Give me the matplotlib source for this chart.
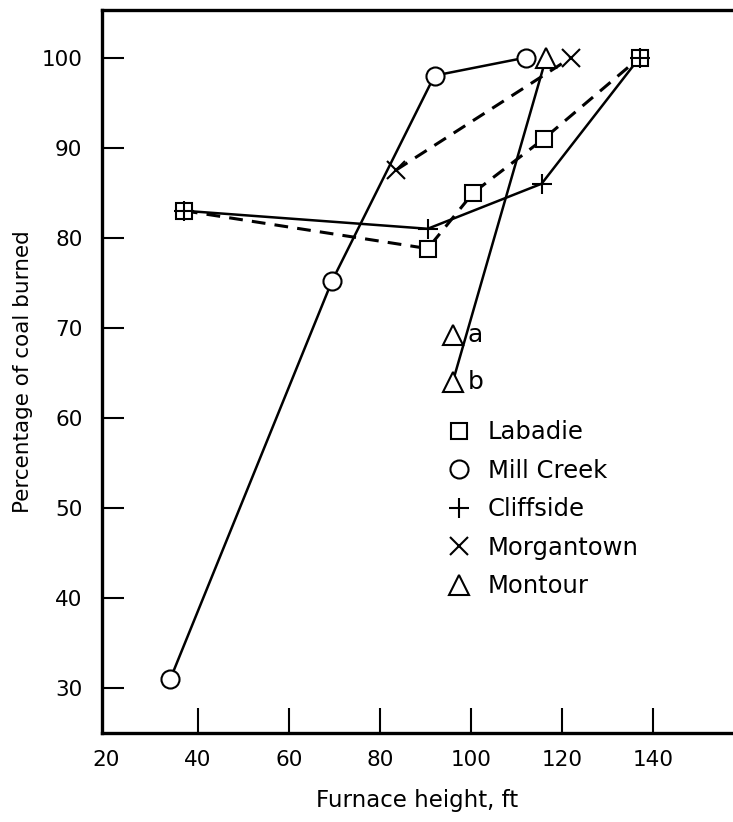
import numpy as np
import matplotlib
matplotlib.use("Agg")
import matplotlib.pyplot as plt
from matplotlib.lines import Line2D

# data
labadie_x = [37, 90.5, 100.5, 116, 137]
labadie_y = [83, 78.8, 85, 91, 100]

millcreek_x = [34, 69.5, 92, 112]
millcreek_y = [31, 75.2, 98, 100]

cliffside_x = [37, 90.5, 115.5, 137]
cliffside_y = [83, 81, 86, 100]

morgantown_x = [83.5, 122]
morgantown_y = [87.5, 100]

montour_x = [96, 116.5]
montour_y = [64, 100]
montour_a = (96, 69.2)

xticks = [20, 40, 60, 80, 100, 120, 140]
yticks = [30, 40, 50, 60, 70, 80, 90, 100]

plt.rcParams['font.family'] = ['DejaVu Sans']
fig = plt.figure(figsize=(7.33, 8.22), dpi=100)
ax = fig.add_axes([0.139, 0.108, 0.861, 0.880])

lw = 1.8
mk = dict(markerfacecolor='white', markeredgecolor='black', markeredgewidth=1.5, color='black')

# lines
ax.plot(millcreek_x, millcreek_y, '-', lw=lw, color='black', zorder=2)
ax.plot(cliffside_x, cliffside_y, '-', lw=lw, color='black', zorder=2)
ax.plot(montour_x, montour_y, '-', lw=lw, color='black', zorder=2)
ax.plot(labadie_x, labadie_y, lw=2.2, color='black', linestyle=(0, (4.5, 3)), zorder=2)
ax.plot(morgantown_x, morgantown_y, lw=2.2, color='black', linestyle=(0, (4.5, 3)), zorder=2)

# markers
ax.plot(millcreek_x, millcreek_y, 'o', ms=13, zorder=3, **mk)
ax.plot(labadie_x, labadie_y, 's', ms=12, zorder=3, **mk)
ax.plot(cliffside_x, cliffside_y, '+', ms=14, zorder=4, **mk)
ax.plot(morgantown_x, morgantown_y, 'x', ms=13, zorder=4, **mk)
ax.plot(montour_x, montour_y, '^', ms=14, zorder=3, **mk)
ax.plot([montour_a[0]], [montour_a[1]], '^', ms=14, zorder=3, **mk)

ax.text(99.3, montour_a[1], 'a', fontsize=18, va='center', ha='left')
ax.text(99.3, montour_y[0], 'b', fontsize=18, va='center', ha='left')

# legend
handles = [
    Line2D([], [], marker='s', ms=12, ls='none', **mk),
    Line2D([], [], marker='o', ms=13, ls='none', **mk),
    Line2D([], [], marker='+', ms=14, ls='none', **mk),
    Line2D([], [], marker='x', ms=13, ls='none', **mk),
    Line2D([], [], marker='^', ms=14, ls='none', **mk),
]
names = ['Labadie', 'Mill Creek', 'Cliffside', 'Morgantown', 'Montour']
ax.legend(handles, names, loc='upper left', bbox_to_anchor=(0.548, 0.433),
          frameon=False, fontsize=17.5, handlelength=0.9, handletextpad=0.75,
          labelspacing=0.6, borderpad=0, borderaxespad=0)

ax.set_xlim(19, 157.5)
ax.set_ylim(25, 105.3)
ax.set_xticks(xticks)
ax.set_yticks(yticks)
ax.tick_params(axis='x', direction='in', length=18, width=1.5, pad=12, labelsize=15.5)
ax.tick_params(axis='y', direction='in', length=16, width=1.5, pad=14, labelsize=15.5)
ax.xaxis.get_major_ticks()[0].tick1line.set_visible(False)
for s in ['left', 'bottom', 'top']:
    ax.spines[s].set_linewidth(2.4)
ax.spines['right'].set_visible(False)

ax.set_xlabel('Furnace height, ft', fontsize=16.5, labelpad=14)
ax.set_ylabel('Percentage of coal burned', fontsize=15.5, labelpad=6)

fig.savefig('out.png', dpi=100)
